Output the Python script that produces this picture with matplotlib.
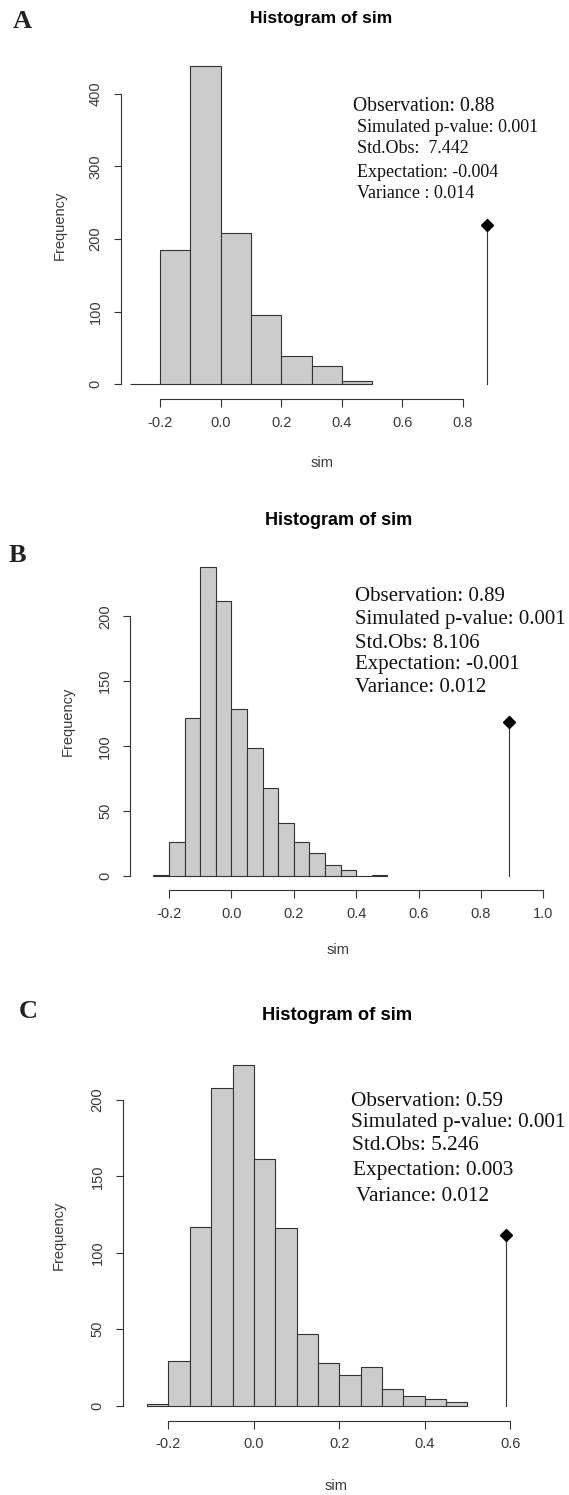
import numpy as np
import matplotlib
matplotlib.use("Agg")
import matplotlib.pyplot as plt

plt.rcParams['font.family'] = 'Liberation Sans'

W, H = 569, 1495  # output size in pixels (dpi 100)

####################################################################
# data (three randtest histograms)
####################################################################
# A
bins_a = [-0.3, -0.2, -0.1, 0.0, 0.1, 0.2, 0.3, 0.4, 0.5]
counts_a = [1, 185, 438, 209, 95, 39, 25, 5]
obs_a = 0.88
xticks_a = [-0.2, 0.0, 0.2, 0.4, 0.6, 0.8]
yticks_a = [0, 100, 200, 300, 400]
stats_a = ["Observation: 0.88", "Simulated p-value: 0.001", "Std.Obs:  7.442",
           "Expectation: -0.004", "Variance : 0.014"]

# B
bins_b = [-0.25, -0.2, -0.15, -0.1, -0.05, 0.0, 0.05, 0.1, 0.15, 0.2,
          0.25, 0.3, 0.35, 0.4, 0.45, 0.5]
counts_b = [1, 26, 122, 238, 212, 129, 99, 68, 41, 26, 18, 9, 5, 0, 1]
obs_b = 0.89
xticks_b = [-0.2, 0.0, 0.2, 0.4, 0.6, 0.8, 1.0]
yticks_b = [0, 50, 100, 150, 200]
stats_b = ["Observation: 0.89", "Simulated p-value: 0.001", "Std.Obs: 8.106",
           "Expectation: -0.001", "Variance: 0.012"]

# C
bins_c = [-0.25, -0.2, -0.15, -0.1, -0.05, 0.0, 0.05, 0.1, 0.15, 0.2,
          0.25, 0.3, 0.35, 0.4, 0.45, 0.5]
counts_c = [1, 29, 117, 208, 223, 161, 116, 47, 28, 20, 25, 11, 6, 4, 2]
obs_c = 0.59
xticks_c = [-0.2, 0.0, 0.2, 0.4, 0.6]
yticks_c = [0, 50, 100, 150, 200]
stats_c = ["Observation: 0.59", "Simulated p-value: 0.001", "Std.Obs: 5.246",
           "Expectation: 0.003", "Variance: 0.012"]

panels = [
    dict(label="A", bins=bins_a, counts=counts_a, obs=obs_a,
         xticks=xticks_a, yticks=yticks_a, stats=stats_a),
    dict(label="B", bins=bins_b, counts=counts_b, obs=obs_b,
         xticks=xticks_b, yticks=yticks_b, stats=stats_b),
    dict(label="C", bins=bins_c, counts=counts_c, obs=obs_c,
         xticks=xticks_c, yticks=yticks_c, stats=stats_c),
]

####################################################################
# pixel layout measured on the reference
# yaxis/xaxis = pixel of the axis lines, xref = pixel of x=-0.2,
# xs = px per x unit, y0 = pixel of count 0, ys = px per count
####################################################################
layout = [
    dict(yaxis=120.7, xaxis=399.0, xref=160.0, xs=303.0, y0=384.3, ys=0.726, top=45,
         title=(321.6, 18, 12.5), letter=(22.6, 21.7), ylab=(60, 225), xlab=(322, 463),
         stat_x=[352.7, 357.3, 357.3, 357.3, 357.3],
         stat_y=[106.7, 127.7, 148.3, 172.3, 193.3],
         stat_fs=[14.2, 13, 13, 13, 13]),
    dict(yaxis=130.3, xaxis=890.0, xref=169.0, xs=312.0, y0=876.2, ys=1.3, top=560,
         title=(338.8, 520.7, 13), letter=(17.5, 555), ylab=(67.4, 721.7), xlab=(338, 950),
         stat_x=[355.2, 355.2, 355.2, 355.2, 355.2],
         stat_y=[596.7, 619.3, 643.3, 665.0, 687.3],
         stat_fs=[15, 15, 15, 15, 15]),
    dict(yaxis=122.7, xaxis=1420.7, xref=168.5, xs=427.0, y0=1405.5, ys=1.528, top=1050,
         title=(336.6, 1015, 13.2), letter=(28.4, 1011.7), ylab=(59, 1235), xlab=(336, 1486),
         stat_x=[350.5, 350.5, 351.9, 353.4, 356.3],
         stat_y=[1101.7, 1122.7, 1145.7, 1170.7, 1196.7],
         stat_fs=[15.3, 15.3, 15.3, 15.3, 15.3]),
]
RIGHT = 548

axis_col = '#333333'
label_col = '#3a3a3a'

fig = plt.figure(figsize=(W / 100, H / 100), dpi=100)


def fp(x, y):
    # pixel (from top-left) -> figure fraction
    return x / W, 1 - y / H


for p, L in zip(panels, layout):
    left, bottom, top = L['yaxis'], L['xaxis'], L['top']
    ax = fig.add_axes([left / W, 1 - bottom / H, (RIGHT - left) / W, (bottom - top) / H])
    ax.set_xlim(-0.2 - (L['xref'] - left) / L['xs'], -0.2 + (RIGHT - L['xref']) / L['xs'])
    ax.set_ylim(-(bottom - L['y0']) / L['ys'], (L['y0'] - top) / L['ys'])

    bins = np.array(p['bins'])
    ax.bar(bins[:-1], p['counts'], width=np.diff(bins), align='edge',
           color='#cccccc', edgecolor=axis_col, linewidth=0.8)

    # observed value: segment up to half the tallest bar, with a diamond
    h = max(p['counts']) / 2
    ax.plot([p['obs'], p['obs']], [0, h], color=axis_col, lw=0.8)
    ax.plot(p['obs'], h, marker='D', ms=6.5, color='black')

    for s in ['top', 'right']:
        ax.spines[s].set_visible(False)
    ax.spines['left'].set_bounds(p['yticks'][0], p['yticks'][-1])
    ax.spines['bottom'].set_bounds(p['xticks'][0], p['xticks'][-1])
    for s in ['left', 'bottom']:
        ax.spines[s].set_color(axis_col)
        ax.spines[s].set_linewidth(0.8)

    ax.set_xticks(p['xticks'], labels=[f"{t:.1f}" for t in p['xticks']])
    ax.set_yticks(p['yticks'], labels=[str(t) for t in p['yticks']])
    ax.tick_params(direction='out', length=5.4, width=0.8, color=axis_col,
                   labelcolor=label_col, labelsize=10.5)
    ax.tick_params(axis='x', pad=6.5)
    ax.tick_params(axis='y', pad=7.6, labelrotation=90)
    for lab in ax.get_yticklabels():
        lab.set_va('center')

    ax.set_ylabel("Frequency", fontsize=10.5, color=label_col)
    ax.yaxis.set_label_coords(*fp(*L['ylab']), transform=fig.transFigure)
    ax.yaxis.label.set_va('center')
    ax.set_xlabel("sim", fontsize=10.5, color=label_col)
    ax.xaxis.set_label_coords(*fp(*L['xlab']), transform=fig.transFigure)
    ax.xaxis.label.set_va('center')

    tx, ty, tfs = L['title']
    ax.set_title("Histogram of sim", x=tx / W, y=1 - ty / H, transform=fig.transFigure,
                 va='center', fontsize=tfs, fontweight='bold')

    fig.text(*fp(*L['letter']), p['label'], family='Liberation Serif', fontweight='bold',
             fontsize=19, ha='center', va='center', color='#222222')

    for s, sx, sy, sfs in zip(p['stats'], L['stat_x'], L['stat_y'], L['stat_fs']):
        fig.text(*fp(sx, sy), s, family='Liberation Serif', fontsize=sfs,
                 ha='left', va='center', color='#111111')

fig.savefig("out.png", dpi=100)
